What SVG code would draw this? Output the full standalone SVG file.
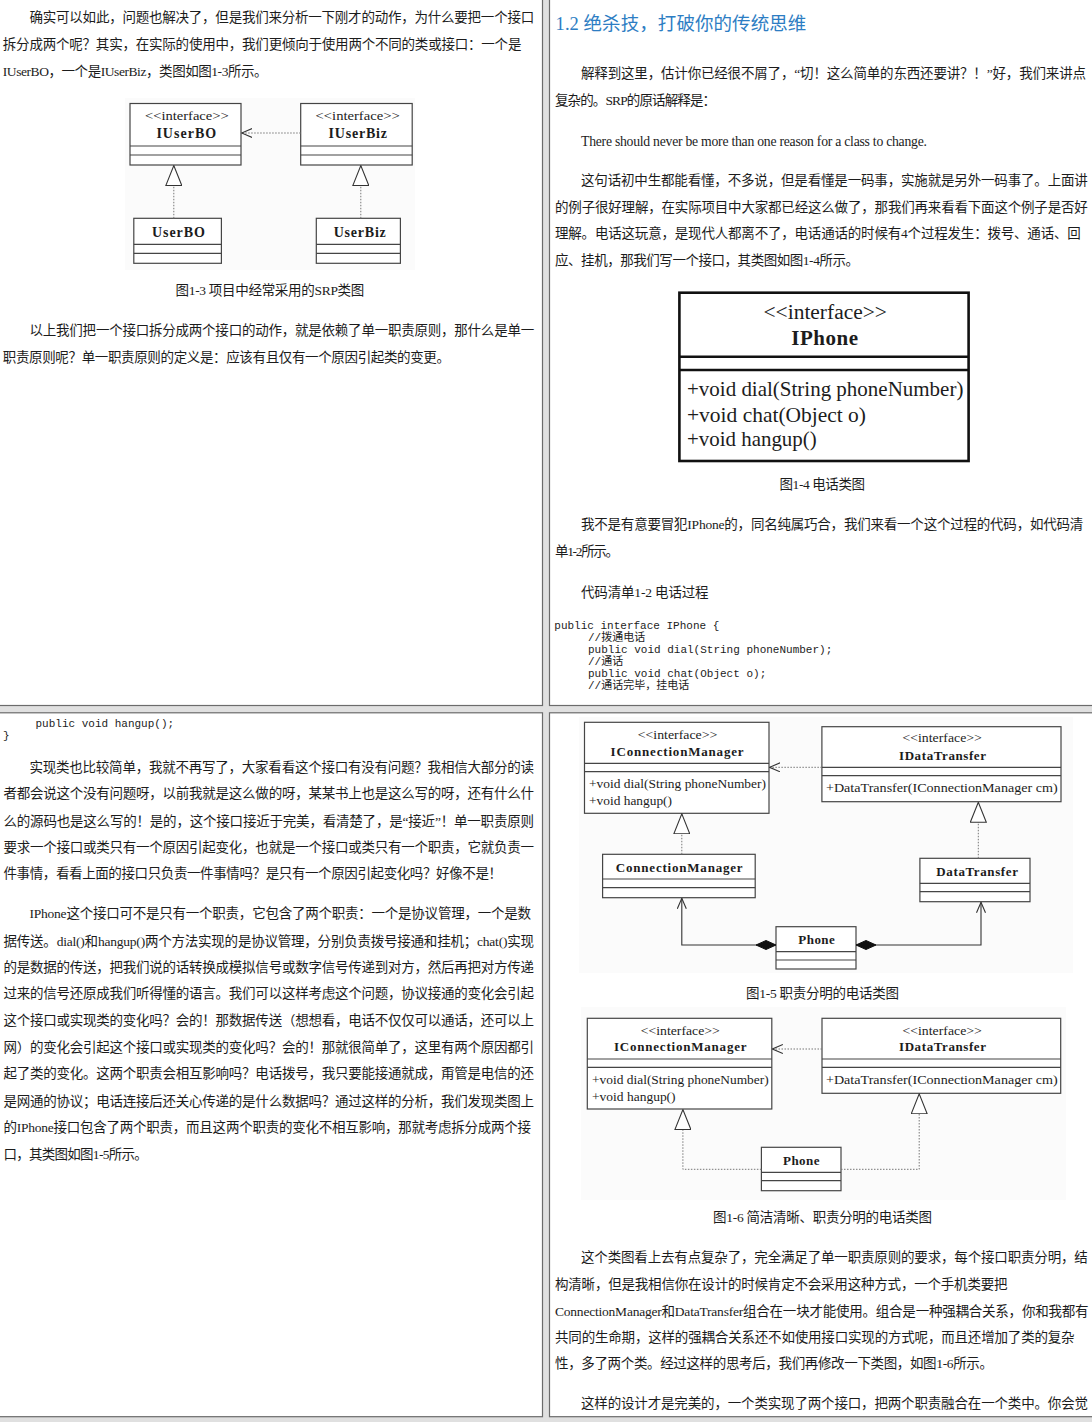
<svg xmlns="http://www.w3.org/2000/svg" width="1092" height="1422" viewBox="0 0 1092 1422">
<style>
.t{font-family:"Liberation Serif","Noto Sans CJK SC",serif;font-size:13.5px;fill:#1c1c1c}
.h{font-family:"Liberation Serif","Noto Sans CJK SC",serif;font-size:18.5px;fill:#2d7dc3}
.code{font-family:"Liberation Mono","Noto Sans CJK SC",monospace;font-size:11px;fill:#1c1c1c}
.d{font-family:"Liberation Serif","Noto Sans CJK SC",serif;font-size:13px;fill:#1c1c1c}
.s{font-family:"Liberation Serif",serif;font-size:12.5px;fill:#1c1c1c}
.b{font-family:"Liberation Serif",serif;font-size:13px;font-weight:bold;fill:#1c1c1c}
.box{fill:#fff;stroke:#454545;stroke-width:1.2}
.dv{stroke:#454545;stroke-width:1.2;fill:none}
.big{fill:#fff;stroke:#111;stroke-width:2.6}
.bigdv{stroke:#111;stroke-width:2.6;fill:none}
.dot{stroke:#777;stroke-width:1;stroke-dasharray:1.5 1.5;fill:none}
.sol{stroke:#333;stroke-width:1.1;fill:none}
.panel{fill:#fff;stroke:#6b6b6b;stroke-width:1.2}
.bg{fill:#fbfbfb}
</style>
<defs>
<marker id="openV" viewBox="0 0 11 10" refX="10.5" refY="5" markerWidth="11" markerHeight="10" markerUnits="userSpaceOnUse" orient="auto">
<path d="M0,0.5 L10.5,5 L0,9.5" fill="none" stroke="#333" stroke-width="1.1"/>
</marker>
<marker id="tri" viewBox="0 0 21 17" refX="20.5" refY="8.5" markerWidth="21" markerHeight="17" markerUnits="userSpaceOnUse" orient="auto">
<path d="M0.5,0.5 L20.5,8.5 L0.5,16.5 Z" fill="#fff" stroke="#333" stroke-width="1.1"/>
</marker>
<marker id="dia" viewBox="0 0 21 10" refX="0.5" refY="5" markerWidth="21" markerHeight="10" markerUnits="userSpaceOnUse" orient="auto">
<path d="M0.5,5 L10.5,0.5 L20.5,5 L10.5,9.5 Z" fill="#111" stroke="#111" stroke-width="1"/>
</marker>
</defs>

<rect x="0" y="0" width="1092" height="1422" fill="#e0e0e0"/>
<rect class="panel" x="-2" y="-2" width="544.5" height="707.5"/>
<rect class="panel" x="549.5" y="-2" width="545" height="707.5"/>
<rect class="panel" x="-2" y="712.8" width="544.5" height="703.9"/>
<rect class="panel" x="549.5" y="712.8" width="545" height="703.9"/>

<!-- Top-left text -->
<g id="text-top-left">
<text class="t" x="29.5" y="22.3" textLength="504.7">确实可以如此，问题也解决了，但是我们来分析一下刚才的动作，为什么要把一个接口</text>
<text class="t" x="2.8" y="49.3" textLength="518.6">拆分成两个呢？其实，在实际的使用中，我们更倾向于使用两个不同的类或接口：一个是</text>
<text class="t" x="2.8" y="76" textLength="264.8">IUserBO，一个是IUserBiz，类图如图1-3所示。</text>
<text class="t" x="175.5" y="295" textLength="188.8">图1-3 项目中经常采用的SRP类图</text>
<text class="t" x="29.5" y="335" textLength="504.7">以上我们把一个接口拆分成两个接口的动作，就是依赖了单一职责原则，那什么是单一</text>
<text class="t" x="2.8" y="362.3" textLength="447.2">职责原则呢？单一职责原则的定义是：应该有且仅有一个原因引起类的变更。</text>
</g>

<!-- Figure 1-3 -->
<rect class="bg" x="125" y="98" width="290" height="172"/>
<g id="IUserBO">
<rect class="box" x="130" y="103.5" width="111" height="61.5"/>
<path class="dv" d="M130,146 H241 M130,155 H241"/>
<text class="s" x="145" y="120" textLength="83.7" lengthAdjust="spacingAndGlyphs">&lt;&lt;interface&gt;&gt;</text>
<text class="b" x="156.4" y="138" textLength="59.8" style="font-size:14px">IUserBO</text>
</g>
<g id="IUserBiz">
<rect class="box" x="300.7" y="103.5" width="111.5" height="61.5"/>
<path class="dv" d="M300.7,146 H412.2 M300.7,155 H412.2"/>
<text class="s" x="315.6" y="120" textLength="84.1" lengthAdjust="spacingAndGlyphs">&lt;&lt;interface&gt;&gt;</text>
<text class="b" x="328.5" y="138" textLength="58.4" style="font-size:14px">IUserBiz</text>
</g>
<g id="UserBO">
<rect class="box" x="133.8" y="218.3" width="87.6" height="45"/>
<path class="dv" d="M133.8,244.3 H221.4 M133.8,253.3 H221.4"/>
<text class="b" x="151.9" y="236.7" textLength="53.1" style="font-size:14px">UserBO</text>
</g>
<g id="UserBiz">
<rect class="box" x="316.3" y="218.3" width="84.1" height="45"/>
<path class="dv" d="M316.3,244.3 H400.4 M316.3,253.3 H400.4"/>
<text class="b" x="333.7" y="236.7" textLength="52.1" style="font-size:14px">UserBiz</text>
</g>
<g id="connectors-1-3">
<path class="dot" d="M300.7,133 H241.6" marker-end="url(#openV)"/>
<path class="dot" d="M173.8,218.3 V165.6" marker-end="url(#tri)"/>
<path class="dot" d="M360.8,218.3 V165.6" marker-end="url(#tri)"/>
</g>

<!-- Top-right text -->
<g id="text-top-right">
<text class="h" x="555.6" y="29.8" textLength="250.7">1.2 绝杀技，打破你的传统思维</text>
<text class="t" x="581" y="77.7" textLength="505">解释到这里，估计你已经很不屑了，“切！这么简单的东西还要讲？！”好，我们来讲点</text>
<text class="t" x="555" y="105" textLength="161">复杂的。SRP的原话解释是：</text>
<text class="t" x="581" y="145.7" textLength="345.9" style="font-size:13.7px">There should never be more than one reason for a class to change.</text>
<text class="t" x="581" y="185" textLength="506.8">这句话初中生都能看懂，不多说，但是看懂是一码事，实施就是另外一码事了。上面讲</text>
<text class="t" x="555" y="212.3" textLength="532.8">的例子很好理解，在实际项目中大家都已经这么做了，那我们再来看看下面这个例子是否好</text>
<text class="t" x="555" y="238.3" textLength="525.8">理解。电话这玩意，是现代人都离不了，电话通话的时候有4个过程发生：拨号、通话、回</text>
<text class="t" x="555" y="265" textLength="304">应、挂机，那我们写一个接口，其类图如图1-4所示。</text>
<text class="t" x="779.5" y="489" textLength="85.5">图1-4 电话类图</text>
<text class="t" x="581" y="529.3" textLength="502.3">我不是有意要冒犯IPhone的，同名纯属巧合，我们来看一个这个过程的代码，如代码清</text>
<text class="t" x="555" y="556" textLength="64">单1-2所示。</text>
<text class="t" x="581" y="596.7" textLength="127.6">代码清单1-2 电话过程</text>
<text class="code" x="554.3" y="629">public interface IPhone {</text>
<text class="code" x="588" y="640.7">//拨通电话</text>
<text class="code" x="588" y="653">public void dial(String phoneNumber);</text>
<text class="code" x="588" y="665">//通话</text>
<text class="code" x="588" y="677.3">public void chat(Object o);</text>
<text class="code" x="588" y="689">//通话完毕，挂电话</text>
</g>

<!-- Figure 1-4 -->
<g id="IPhone">
<rect class="big" x="679.4" y="292.7" width="289.2" height="168.3"/>
<path class="bigdv" d="M679.4,356.7 H968.6 M679.4,370 H968.6"/>
<text class="s" x="763.5" y="319.3" textLength="123.4" lengthAdjust="spacingAndGlyphs" style="font-size:20px">&lt;&lt;interface&gt;&gt;</text>
<text class="b" x="791.3" y="345" textLength="66.7" style="font-size:21px">IPhone</text>
<text class="s" x="687" y="396.3" textLength="276.4" lengthAdjust="spacingAndGlyphs" style="font-size:21px">+void dial(String phoneNumber)</text>
<text class="s" x="687" y="422" textLength="179" lengthAdjust="spacingAndGlyphs" style="font-size:21px">+void chat(Object o)</text>
<text class="s" x="687" y="446.3" textLength="129.7" lengthAdjust="spacingAndGlyphs" style="font-size:21px">+void hangup()</text>
</g>

<!-- Bottom-left text -->
<g id="text-bottom-left">
<text class="code" x="35.5" y="726.7">public void hangup();</text>
<text class="code" x="3" y="739">}</text>
<text class="t" x="29.5" y="772.3" textLength="504.5">实现类也比较简单，我就不再写了，大家看看这个接口有没有问题？我相信大部分的读</text>
<text class="t" x="3.5" y="798.3" textLength="530.5">者都会说这个没有问题呀，以前我就是这么做的呀，某某书上也是这么写的呀，还有什么什</text>
<text class="t" x="3.5" y="825.7" textLength="530.5">么的源码也是这么写的！是的，这个接口接近于完美，看清楚了，是“接近”！单一职责原则</text>
<text class="t" x="3.5" y="852.3" textLength="530.5">要求一个接口或类只有一个原因引起变化，也就是一个接口或类只有一个职责，它就负责一</text>
<text class="t" x="3.5" y="878.3" textLength="498.5">件事情，看看上面的接口只负责一件事情吗？是只有一个原因引起变化吗？好像不是！</text>
<text class="t" x="29.5" y="918.3" textLength="501.5">IPhone这个接口可不是只有一个职责，它包含了两个职责：一个是协议管理，一个是数</text>
<text class="t" x="3.5" y="945.7" textLength="530.5">据传送。dial()和hangup()两个方法实现的是协议管理，分别负责拨号接通和挂机；chat()实现</text>
<text class="t" x="3.5" y="971.7" textLength="530.5">的是数据的传送，把我们说的话转换成模拟信号或数字信号传递到对方，然后再把对方传递</text>
<text class="t" x="3.5" y="998.3" textLength="530.5">过来的信号还原成我们听得懂的语言。我们可以这样考虑这个问题，协议接通的变化会引起</text>
<text class="t" x="3.5" y="1025" textLength="530.5">这个接口或实现类的变化吗？会的！那数据传送（想想看，电话不仅仅可以通话，还可以上</text>
<text class="t" x="3.5" y="1051.7" textLength="530.5">网）的变化会引起这个接口或实现类的变化吗？会的！那就很简单了，这里有两个原因都引</text>
<text class="t" x="3.5" y="1078.3" textLength="530.5">起了类的变化。这两个职责会相互影响吗？电话拨号，我只要能接通就成，甭管是电信的还</text>
<text class="t" x="3.5" y="1105.7" textLength="530.5">是网通的协议；电话连接后还关心传递的是什么数据吗？通过这样的分析，我们发现类图上</text>
<text class="t" x="3.5" y="1132.3" textLength="527.5">的IPhone接口包含了两个职责，而且这两个职责的变化不相互影响，那就考虑拆分成两个接</text>
<text class="t" x="3.5" y="1159" textLength="144.2">口，其类图如图1-5所示。</text>
</g>

<!-- Figure 1-5 -->
<rect class="bg" x="579" y="717" width="494" height="256"/>
<g id="IConnectionManager-1-5">
<rect class="box" x="584.5" y="722.3" width="184.5" height="91"/>
<path class="dv" d="M584.5,763.3 H769 M584.5,771.7 H769"/>
<text class="s" x="637.7" y="739" textLength="79.6" lengthAdjust="spacingAndGlyphs">&lt;&lt;interface&gt;&gt;</text>
<text class="b" x="610.6" y="755.5" textLength="133">IConnectionManager</text>
<text class="d" x="589" y="788.3" textLength="177" lengthAdjust="spacingAndGlyphs">+void dial(String phoneNumber)</text>
<text class="d" x="589" y="805" textLength="83" lengthAdjust="spacingAndGlyphs">+void hangup()</text>
</g>
<g id="IDataTransfer-1-5">
<rect class="box" x="821.9" y="726.7" width="239.1" height="75"/>
<path class="dv" d="M821.9,767.3 H1061 M821.9,775.7 H1061"/>
<text class="s" x="902.5" y="742.3" textLength="79.3" lengthAdjust="spacingAndGlyphs">&lt;&lt;interface&gt;&gt;</text>
<text class="b" x="899" y="759.5" textLength="87">IDataTransfer</text>
<text class="d" x="826" y="792" textLength="231.6" lengthAdjust="spacingAndGlyphs">+DataTransfer(IConnectionManager cm)</text>
</g>
<g id="ConnectionManager">
<rect class="box" x="602.6" y="854.3" width="152.6" height="43.4"/>
<path class="dv" d="M602.6,879 H755.2 M602.6,887.7 H755.2"/>
<text class="b" x="615.8" y="872.2" textLength="126.8">ConnectionManager</text>
</g>
<g id="DataTransfer">
<rect class="box" x="919.9" y="858.3" width="110.1" height="43.4"/>
<path class="dv" d="M919.9,883.3 H1030 M919.9,891.7 H1030"/>
<text class="b" x="936.3" y="875.5" textLength="81.7">DataTransfer</text>
</g>
<g id="Phone-1-5">
<rect class="box" x="776" y="926.7" width="80" height="42.3"/>
<path class="dv" d="M776,951.7 H856 M776,960 H856"/>
<text class="b" x="798.3" y="943.8" textLength="36.5">Phone</text>
</g>
<g id="connectors-1-5">
<path class="dot" d="M821.9,767.3 H769.6" marker-end="url(#openV)"/>
<path class="dot" d="M681.8,854.3 V813.9" marker-end="url(#tri)"/>
<path class="dot" d="M978.3,858.3 V802.3" marker-end="url(#tri)"/>
<path class="sol" d="M776,945 H681.8 V898.3" marker-start="url(#dia)" marker-end="url(#openV)"/>
<path class="sol" d="M856,945 H981 V902.3" marker-start="url(#dia)" marker-end="url(#openV)"/>
</g>
<text class="t" x="746" y="998.3" textLength="153">图1-5 职责分明的电话类图</text>

<!-- Figure 1-6 -->
<rect class="bg" x="581" y="1007" width="485" height="193"/>
<g id="IConnectionManager-1-6">
<rect class="box" x="587.3" y="1018.3" width="184.5" height="90.7"/>
<path class="dv" d="M587.3,1059 H771.8 M587.3,1067.3 H771.8"/>
<text class="s" x="640.8" y="1034.7" textLength="78.9" lengthAdjust="spacingAndGlyphs">&lt;&lt;interface&gt;&gt;</text>
<text class="b" x="614" y="1051.2" textLength="132.5">IConnectionManager</text>
<text class="d" x="592" y="1084.3" textLength="176.7" lengthAdjust="spacingAndGlyphs">+void dial(String phoneNumber)</text>
<text class="d" x="592" y="1101" textLength="83.6" lengthAdjust="spacingAndGlyphs">+void hangup()</text>
</g>
<g id="IDataTransfer-1-6">
<rect class="box" x="822" y="1018.3" width="238.7" height="75"/>
<path class="dv" d="M822,1059 H1060.7 M822,1067.3 H1060.7"/>
<text class="s" x="902.5" y="1034.7" textLength="79.3" lengthAdjust="spacingAndGlyphs">&lt;&lt;interface&gt;&gt;</text>
<text class="b" x="899" y="1051.2" textLength="87">IDataTransfer</text>
<text class="d" x="826" y="1084.3" textLength="231.6" lengthAdjust="spacingAndGlyphs">+DataTransfer(IConnectionManager cm)</text>
</g>
<g id="Phone-1-6">
<rect class="box" x="761.4" y="1147.3" width="79.6" height="43.4"/>
<path class="dv" d="M761.4,1172.3 H841 M761.4,1180.7 H841"/>
<text class="b" x="783" y="1164.5" textLength="36.5">Phone</text>
</g>
<g id="connectors-1-6">
<path class="dot" d="M822,1049 H772.4" marker-end="url(#openV)"/>
<path class="dot" d="M761.4,1169.3 H682.9 V1109.6" marker-end="url(#tri)"/>
<path class="dot" d="M841,1169.3 H919.2 V1093.9" marker-end="url(#tri)"/>
</g>

<!-- Bottom-right text -->
<g id="text-bottom-right">
<text class="t" x="713" y="1222.3" textLength="219">图1-6 简洁清晰、职责分明的电话类图</text>
<text class="t" x="581" y="1262.3" textLength="506.8">这个类图看上去有点复杂了，完全满足了单一职责原则的要求，每个接口职责分明，结</text>
<text class="t" x="555" y="1289" textLength="452.5">构清晰，但是我相信你在设计的时候肯定不会采用这种方式，一个手机类要把</text>
<text class="t" x="555" y="1315.7" textLength="533.5">ConnectionManager和DataTransfer组合在一块才能使用。组合是一种强耦合关系，你和我都有</text>
<text class="t" x="555" y="1342.3" textLength="519.6">共同的生命期，这样的强耦合关系还不如使用接口实现的方式呢，而且还增加了类的复杂</text>
<text class="t" x="555" y="1368.3" textLength="438">性，多了两个类。经过这样的思考后，我们再修改一下类图，如图1-6所示。</text>
<text class="t" x="581" y="1408.3" textLength="507">这样的设计才是完美的，一个类实现了两个接口，把两个职责融合在一个类中。你会觉</text>
</g>
</svg>
